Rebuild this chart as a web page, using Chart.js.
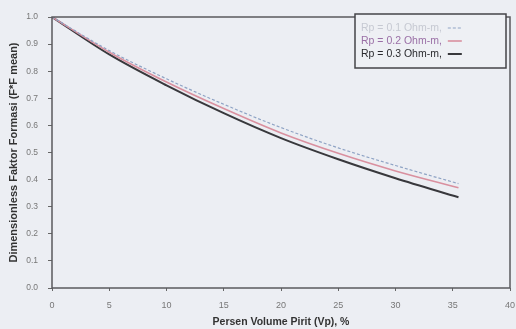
<!DOCTYPE html>
<html>
<head>
<meta charset="utf-8">
<script src="https://cdn.jsdelivr.net/npm/chart.js@4/dist/chart.umd.min.js"></script>
<style>
  html, body { margin: 0; padding: 0; background: #eceef3; }
  #wrap { width: 516px; height: 329px; position: relative; }
</style>
</head>
<body>
<div id="wrap"><canvas id="c" width="516" height="329"></canvas></div>
<script>
const volumePirit = [0, 5, 10, 15, 20, 25, 30, 35.5];
const seriesRp01 = [1.0, 0.876, 0.772, 0.678, 0.592, 0.517, 0.452, 0.385];
const seriesRp02 = [1.0, 0.870, 0.760, 0.662, 0.572, 0.497, 0.432, 0.370];
const seriesRp03 = [1.0, 0.862, 0.748, 0.645, 0.553, 0.475, 0.405, 0.335];
const seriesLabels = ['Rp = 0.1 Ohm-m', 'Rp = 0.2 Ohm-m', 'Rp = 0.3 Ohm-m'];
const xTicks = [0, 5, 10, 15, 20, 25, 30, 35, 40];
const yTicks = [0.0, 0.1, 0.2, 0.3, 0.4, 0.5, 0.6, 0.7, 0.8, 0.9, 1.0];

function pts(ys) { return volumePirit.map((x, i) => ({ x: x, y: ys[i] })); }

const frameAndLegend = {
  id: 'frameAndLegend',
  afterDatasetsDraw(chart) {
    const ctx = chart.ctx, a = chart.chartArea;
    ctx.save();
    ctx.strokeStyle = '#5a5a5e';
    ctx.lineWidth = 1.5;
    ctx.strokeRect(a.left, a.top, a.right - a.left, a.bottom - a.top);
    // legend box
    const bx = 355, by = 14, bw = 151, bh = 54;
    ctx.fillStyle = '#eef0f4';
    ctx.fillRect(bx, by, bw, bh);
    ctx.strokeStyle = '#444448';
    ctx.lineWidth = 1.5;
    ctx.strokeRect(bx, by, bw, bh);
    ctx.font = '10.5px "Liberation Sans", Arial, sans-serif';
    ctx.textBaseline = 'middle';
    const textColors = ['#c6c9d2', '#9a6fa6', '#2a2a2e'];
    chart.data.datasets.forEach((ds, i) => {
      const ty = by + 14 + i * 13;
      ctx.fillStyle = textColors[i];
      ctx.fillText(ds.label + ',', bx + 6, ty);
      const w = ctx.measureText(ds.label + ',').width;
      ctx.beginPath();
      ctx.strokeStyle = ds.borderColor;
      ctx.lineWidth = ds.borderWidth;
      ctx.setLineDash(ds.borderDash || []);
      ctx.moveTo(bx + 12 + w, ty);
      ctx.lineTo(bx + 26 + w, ty);
      ctx.stroke();
      ctx.setLineDash([]);
    });
    ctx.restore();
  }
};

new Chart(document.getElementById('c'), {
  type: 'line',
  data: {
    datasets: [
      { label: seriesLabels[0], data: pts(seriesRp01), borderColor: '#8fa3c4', borderWidth: 1.2, borderDash: [3, 2], pointRadius: 0, cubicInterpolationMode: 'monotone', fill: false },
      { label: seriesLabels[1], data: pts(seriesRp02), borderColor: '#d9909f', borderWidth: 1.6, pointRadius: 0, cubicInterpolationMode: 'monotone', fill: false },
      { label: seriesLabels[2], data: pts(seriesRp03), borderColor: '#38383c', borderWidth: 2, pointRadius: 0, cubicInterpolationMode: 'monotone', fill: false }
    ]
  },
  options: {
    responsive: false,
    animation: false,
    devicePixelRatio: 1,
    layout: { padding: { top: 17, right: 6, left: 0, bottom: 0 } },
    plugins: { legend: { display: false }, tooltip: { enabled: false } },
    scales: {
      x: {
        type: 'linear', min: 0, max: 40,
        afterBuildTicks(s) { s.ticks = xTicks.map(v => ({ value: v })); },
        afterFit(s) { s.height = 41; s.paddingLeft = 0; s.paddingRight = 0; },
        grid: { drawOnChartArea: false, drawTicks: true, tickLength: 3, color: '#666' },
        border: { display: false },
        ticks: { color: '#777', font: { size: 9, family: '"Liberation Sans", Arial, sans-serif' }, padding: 9, maxRotation: 0 },
        title: { display: true, text: 'Persen Volume Pirit (Vp), %', color: '#333', font: { size: 10.5, weight: 'bold', family: '"Liberation Sans", Arial, sans-serif' }, padding: { top: 0, bottom: 1 } }
      },
      y: {
        min: 0, max: 1,
        afterBuildTicks(s) { s.ticks = yTicks.map(v => ({ value: v })); },
        afterFit(s) { s.width = 52; s.paddingTop = 0; s.paddingBottom = 0; },
        grid: { drawOnChartArea: false, drawTicks: true, tickLength: 4, color: '#666' },
        border: { display: false },
        ticks: { color: '#777', font: { size: 8.5, family: '"Liberation Sans", Arial, sans-serif' }, padding: 10, callback: v => v.toFixed(1) },
        title: { display: true, text: 'Dimensionless Faktor Formasi (F*F mean)', color: '#333', font: { size: 11, weight: 'bold', family: '"Liberation Sans", Arial, sans-serif' }, padding: { top: 7, bottom: 0 } }
      }
    }
  },
  plugins: [frameAndLegend]
});
</script>
</body>
</html>
